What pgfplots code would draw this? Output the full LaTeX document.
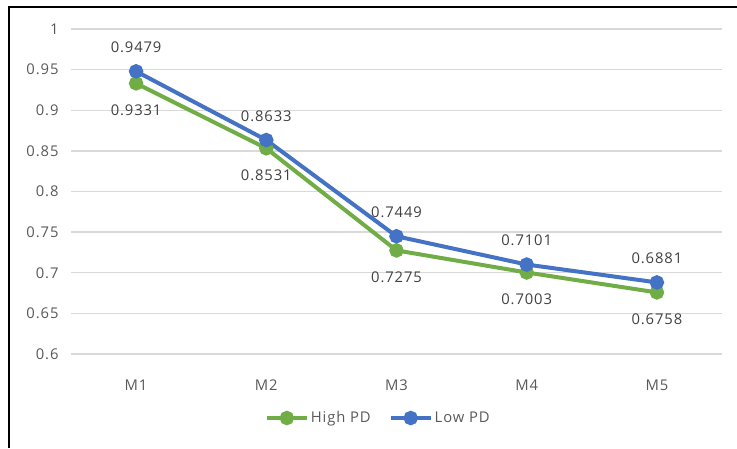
\documentclass[border=0pt]{standalone}
\usepackage{pgfplots}
\pgfplotsset{compat=1.18}
\usepackage{fontspec}
\setmainfont{Open Sans}[LetterSpace=6]
\definecolor{hgreen}{HTML}{70AD47}
\definecolor{lblue}{HTML}{4472C4}
\definecolor{tgray}{HTML}{595959}
\definecolor{lgray}{HTML}{404040}
\definecolor{ggray}{HTML}{D9D9D9}
\begin{document}
\begin{tikzpicture}
\begin{axis}[
  name=ax,
  at={(0pt,0pt)}, anchor=south west,
  scale only axis, width=651pt, height=325pt,
  xmin=0.5, xmax=5.5, ymin=0.6, ymax=1,
  axis line style={draw=none},
  xtick={1,2,3,4,5}, xticklabels={M1,M2,M3,M4,M5},
  ytick={0.6,0.65,0.7,0.75,0.8,0.85,0.9,0.95,1},
  yticklabels={0.6,0.65,0.7,0.75,0.8,0.85,0.9,0.95,1},
  major tick length=0pt,
  ymajorgrids, grid style={ggray, line width=1.3pt},
  tick label style={font=\fontsize{14.8}{17}\selectfont, text=tgray},
  yticklabel style={xshift=-9pt},
  xticklabel style={anchor=center, yshift=-31pt},
  /pgf/number format/assume math mode=true,
  clip=false,
  legend style={at={(0.472,-0.197)}, anchor=center, draw=none, fill=none,
    legend columns=2, font=\fontsize{14.8}{17}\selectfont, text=tgray,
    /tikz/every even column/.append style={column sep=16pt},
    legend cell align=left, inner sep=0pt},
  legend image code/.code={\draw[mark repeat=2,mark phase=2,#1] plot coordinates {(0pt,0pt) (20pt,0pt) (40pt,0pt)};},
  nodes near coords={\pgfplotspointmeta},
  point meta=explicit symbolic,
  every node near coord/.append style={font=\fontsize{14.8}{17}\selectfont, text=lgray, anchor=center, inner sep=0pt},
]
\addplot[hgreen, line width=4pt, mark=*, mark size=5.2pt, mark options={solid},
  every node near coord/.append style={yshift=-26.5pt}]
  coordinates {(1,0.9331)[0.9331] (2,0.8531)[0.8531] (3,0.7275)[0.7275] (4,0.7003)[0.7003] (5,0.6758)[0.6758]};
\addlegendentry{High PD}
\addplot[lblue, line width=4pt, mark=*, mark size=5.2pt, mark options={solid},
  every node near coord/.append style={yshift=24pt}]
  coordinates {(1,0.9479)[0.9479] (2,0.8633)[0.8633] (3,0.7449)[0.7449] (4,0.7101)[0.7101] (5,0.6881)[0.6881]};
\addlegendentry{Low PD}
\end{axis}
\path[use as bounding box] (-71pt,-94pt) rectangle (666pt,354pt);
\fill[black] (-63pt,-94pt) rectangle (-61pt,348pt);
\fill[black] (-63pt,346pt) rectangle (666pt,348pt);
\end{tikzpicture}
\end{document}
